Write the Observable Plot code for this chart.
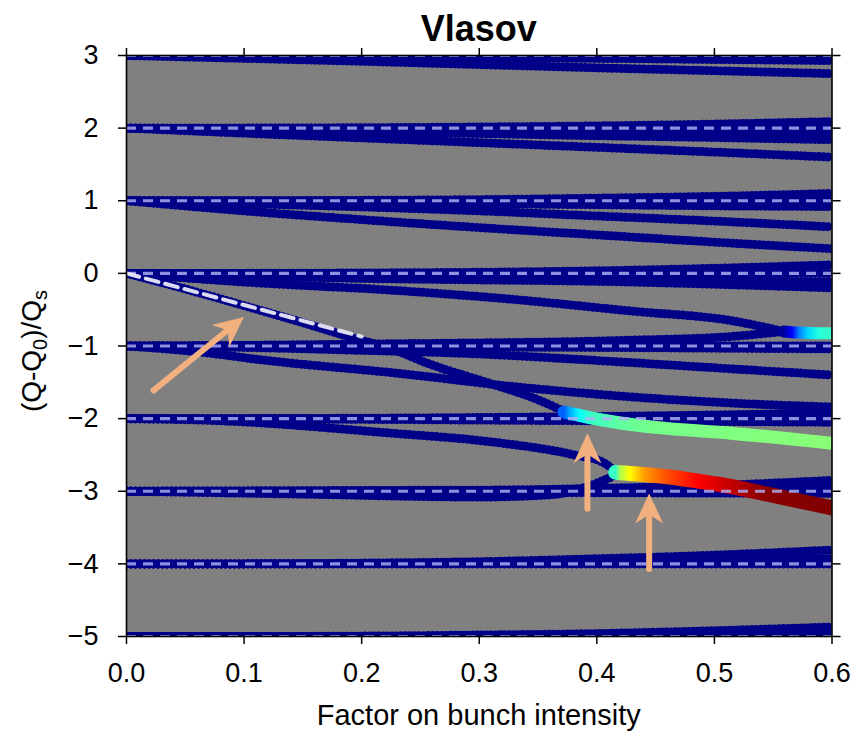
<!DOCTYPE html>
<html><head><meta charset="utf-8">
<script src="https://cdn.jsdelivr.net/npm/d3@7"></script>
<script src="https://cdn.jsdelivr.net/npm/@observablehq/plot@0.6"></script>
<style>body{margin:0;background:#fff;} #chart{width:854px;height:732px;}</style>
</head><body><div id="chart"></div>
<script>
// ---------- data ----------
const titleText = "Vlasov";
const xLabel = "Factor on bunch intensity";
const xTicks = [0, 0.1, 0.2, 0.3, 0.4, 0.5, 0.6];
const yTicks = [-5, -4, -3, -2, -1, 0, 1, 2, 3];
const modeLevels = [-5, -4, -3, -2, -1, 0, 1, 2, 3];

// sample positions shared by the "simple" mode lines
const gridX = [0, 0.1, 0.2, 0.3, 0.4, 0.5, 0.6];
// azimuthal mode 3
const m3a = [3, 3, 3, 3, 3, 3, 3];
const m3b = [3, 2.995, 2.985, 2.97, 2.96, 2.945, 2.93];
const m3c = [3, 2.96, 2.92, 2.875, 2.83, 2.79, 2.75];
// mode 2
const m2a = [2, 2, 2.005, 2.015, 2.03, 2.055, 2.09];
const m2b = [2, 2, 2, 2, 2, 2, 2];
const m2c = [2, 1.99, 1.98, 1.97, 1.96, 1.95, 1.94];
const m2d = [2, 1.975, 1.95, 1.925, 1.895, 1.87, 1.84];
const m2e = [2, 1.93, 1.865, 1.8, 1.735, 1.67, 1.6];
// mode 1
const m1a = [1, 1, 1.005, 1.015, 1.035, 1.06, 1.1];
const m1b = [1, 1, 1, 1, 1, 1, 1];
const m1c = [1, 0.985, 0.97, 0.96, 0.945, 0.93, 0.92];
const m1d = [1, 0.96, 0.915, 0.86, 0.79, 0.72, 0.64];
const m1e = [1, 0.86, 0.74, 0.63, 0.53, 0.43, 0.34];
// mode 0
const m0a = [0, 0, 0.005, 0.015, 0.035, 0.07, 0.117];
const m0b = [0, 0, 0, 0, 0, 0, 0];
const m0c = [0, -0.02, -0.04, -0.06, -0.08, -0.1, -0.12];
const m0d = [0, -0.035, -0.07, -0.09, -0.11, -0.15, -0.2];
// mode -1
const mm1a = [-1, -1, -1, -1, -1, -1, -1];
const mm1b = [-1, -1.005, -1.01, -1.015, -1.02, -1.03, -1.04];
const mm1c = [-1, -1.02, -1.06, -1.11, -1.2, -1.3, -1.4];
// mode -2
const mm2a = [-2, -2, -1.995, -1.985, -1.97, -1.95, -1.92];
const mm2b = [-2, -2, -2, -2, -2, -2, -2];
const mm2c = [-2, -2.005, -2.01, -2.02, -2.03, -2.04, -2.05];
// mode -3
const mm3a = [-3, -3, -2.995, -2.99, -2.96, -2.92, -2.85];
const mm3b = [-3, -3, -3, -3, -3, -3, -3];
const mm3c = [-3, -2.995, -2.99, -2.985, -2.98, -2.97, -2.96];
const mm3d = [-3, -3.005, -3.01, -3.015, -3.02, -3.025, -3.03];
// mode -4
const mm4a = [-4, -4, -3.99, -3.97, -3.93, -3.88, -3.81];
const mm4b = [-4, -4, -3.995, -3.985, -3.97, -3.95, -3.93];
const mm4c = [-4, -4, -4, -4, -4, -4, -4];
// mode -5
const mm5a = [-5, -5, -4.995, -4.98, -4.96, -4.92, -4.87];
const mm5b = [-5, -5, -5, -4.995, -4.985, -4.96, -4.93];
const mm5c = [-5, -5, -5, -5, -5, -5, -5];

// curved lines that end in a coupling
const steepX = [0, 0.05, 0.1, 0.15, 0.195, 0.215, 0.235, 0.253, 0.31, 0.35, 0.372];
const steepY = [0, -0.215, -0.445, -0.68, -0.9, -0.99, -1.1, -1.22, -1.52, -1.74, -1.9];
const dX = [0, 0.1, 0.233, 0.33, 0.43, 0.514, 0.559];
const dY = [0, -0.12, -0.24, -0.36, -0.52, -0.65, -0.8];
const gX = [0, 0.1, 0.225, 0.43, 0.514, 0.559];
const gY = [-1, -0.99, -0.97, -0.92, -0.87, -0.8];
const eX = [0, 0.066, 0.114, 0.233, 0.33, 0.437, 0.52, 0.6];
const eY = [-1, -1.09, -1.19, -1.38, -1.56, -1.71, -1.79, -1.84];
const fX = [0, 0.08, 0.225, 0.31, 0.381, 0.405, 0.416];
const fY = [-2, -2.03, -2.2, -2.32, -2.5, -2.6, -2.73];
const iX = [0, 0.15, 0.3, 0.36, 0.395, 0.418];
const iY = [-3, -3.04, -3.08, -3.05, -2.92, -2.76];

// coupled (unstable) modes, coloured by growth rate (0..1 on jet colormap)
const c1X = [0.559, 0.562, 0.566, 0.572, 0.58, 0.589, 0.6];
const c1Y = [-0.8, -0.805, -0.81, -0.815, -0.82, -0.823, -0.825];
const c1G = [0.03, 0.08, 0.12, 0.25, 0.34, 0.41, 0.43];
const c2X = [0.372, 0.378, 0.385, 0.395, 0.42, 0.45, 0.514, 0.6];
const c2Y = [-1.91, -1.93, -1.955, -1.99, -2.06, -2.12, -2.2, -2.34];
const c2G = [0.22, 0.3, 0.38, 0.43, 0.47, 0.49, 0.5, 0.51];
const c3X = [0.416, 0.42, 0.428, 0.44, 0.46, 0.486, 0.502, 0.522, 0.542, 0.6];
const c3Y = [-2.74, -2.745, -2.755, -2.77, -2.8, -2.86, -2.9, -2.96, -3.03, -3.23];
const c3G = [0.43, 0.55, 0.625, 0.72, 0.8, 0.875, 0.91, 0.95, 0.99, 1.0];

// dashed reference line (linear tune shift)
const diagX = [0, 0.2];
const diagY = [0, -0.87];

// annotation arrows
const arrowX1 = [0.023, 0.392, 0.4445];
const arrowY1 = [-1.61, -3.24, -4.07];
const arrowX2 = [0.0998, 0.392, 0.4445];
const arrowY2 = [-0.6, -2.2, -3.03];

// ---------- layout ----------
const W = 854, H = 732;
const ML = 126, MR = 22.5, MT = 55, MB = 96;
const NAVY = "#000088";
const PEACH = "#f2b07f";
const FONT = "'Liberation Sans', Arial, Helvetica, sans-serif";

const simpleLines = [m3a, m3b, m3c, m2a, m2b, m2c, m2d, m2e, m1a, m1b, m1c, m1d, m1e,
  m0a, m0b, m0c, m0d, mm1a, mm1b, mm1c, mm2a, mm2b, mm2c, mm3a, mm3b, mm3c, mm3d,
  mm4a, mm4b, mm4c, mm5a, mm5b, mm5c];
const curvedLines = [[steepX, steepY], [dX, dY], [gX, gY], [eX, eY], [fX, fY], [iX, iY]];

const rows = [];
simpleLines.forEach((ys, k) => ys.forEach((y, j) => rows.push({x: gridX[j], y, id: "s" + k})));
curvedLines.forEach(([xs, ys], k) => xs.forEach((x, j) => rows.push({x, y: ys[j], id: "c" + k})));

const coupled = [[c1X, c1Y, c1G, 12], [c2X, c2Y, c2G, 13], [c3X, c3Y, c3G, 15]];
const zip = (xs, ys) => xs.map((x, i) => ({x, y: ys[i]}));

function jet(v) {
  const c = t => Math.max(0, Math.min(1, t));
  return d3.rgb(255 * c(1.5 - Math.abs(4 * v - 3)), 255 * c(1.5 - Math.abs(4 * v - 2)), 255 * c(1.5 - Math.abs(4 * v - 1))).formatHex();
}

const arrows = arrowX1.map((x1, i) => ({x1, y1: arrowY1[i], x2: arrowX2[i], y2: arrowY2[i]}));
const kx = (W - ML - MR) / 0.6, ky = (H - MT - MB) / 8;
function headSymbol(a) {
  const L = 30, Wd = 14, N = 21;
  const ang = Math.atan2((a.x2 - a.x1) * kx, (a.y2 - a.y1) * ky);
  const c = Math.cos(ang), s = Math.sin(ang);
  const pts = [[0, 0], [Wd, L], [0, N], [-Wd, L]].map(([x, y]) => [x * c - y * s, x * s + y * c]);
  return {draw(ctx) { ctx.moveTo(...pts[0]); for (let i = 1; i < pts.length; i++) ctx.lineTo(...pts[i]); ctx.closePath(); }};
}

const fmtY = d => d < 0 ? "\u2212" + (-d) : String(d);

const marks = [
  Plot.frame({fill: "#808080"}),
  Plot.line(rows, {x: "x", y: "y", z: "id", stroke: NAVY, strokeWidth: 9, strokeDasharray: "0 4.5", strokeLinecap: "round", curve: "monotone-x", clip: true}),
  ...coupled.map(([xs, ys, gs, w], k) => Plot.line(zip(xs, ys), {x: "x", y: "y", stroke: `url(#grad${k})`, strokeWidth: w, strokeLinecap: "round", curve: "monotone-x", clip: true})),
  Plot.ruleY(modeLevels, {stroke: "#b0b0f4", strokeOpacity: 0.82, strokeWidth: 3.2, strokeDasharray: "10 7", clip: true}),
  Plot.line(zip(diagX, diagY), {x: "x", y: "y", stroke: "#eeeefa", strokeOpacity: 0.92, strokeWidth: 4, strokeDasharray: "13 7"}),
  Plot.arrow(arrows, {x1: "x1", y1: "y1", x2: "x2", y2: "y2", stroke: PEACH, strokeWidth: 6, headLength: 0, insetEnd: 14}),
  ...arrows.map(a => Plot.dot([a], {x: "x2", y: "y2", r: 15, symbol: headSymbol(a), fill: PEACH, stroke: "none"})),
  Plot.axisX({anchor: "bottom", ticks: xTicks, tickSize: 8, tickPadding: 18, tickFormat: d3.format(".1f"), fontSize: 27, label: null, strokeWidth: 1.5}),
  Plot.axisX({anchor: "top", ticks: xTicks, tickSize: 8, tickFormat: () => "", label: null, strokeWidth: 1.5}),
  Plot.axisY({anchor: "left", ticks: yTicks, tickSize: 8, tickPadding: 20, tickFormat: fmtY, fontSize: 27, label: null, strokeWidth: 1.5}),
  Plot.axisY({anchor: "right", ticks: yTicks, tickSize: 8, tickFormat: () => "", label: null, strokeWidth: 1.5}),
  Plot.frame({stroke: "black", strokeWidth: 1.6})
];

const chart = Plot.plot({
  width: W, height: H,
  marginLeft: ML, marginRight: MR, marginTop: MT, marginBottom: MB,
  x: {domain: [0, 0.6]},
  y: {domain: [-5, 3]},
  style: {fontFamily: FONT, fontSize: "27px", background: "white", color: "black"},
  marks
});

// gradients for coupled modes
const svg = d3.select(chart.tagName.toLowerCase() === "svg" ? chart : chart.querySelector("svg"));
const defs = svg.insert("defs", ":first-child");
coupled.forEach(([xs, ys, gs], k) => {
  const lg = defs.append("linearGradient").attr("id", `grad${k}`).attr("x1", 0).attr("y1", 0).attr("x2", 1).attr("y2", 0);
  const x0 = xs[0], x1 = xs[xs.length - 1];
  xs.forEach((x, i) => lg.append("stop").attr("offset", (x - x0) / (x1 - x0)).attr("stop-color", jet(gs[i])));
});

// title and axis labels
const cx = (ML + W - MR) / 2;
svg.append("text").attr("x", cx).attr("y", 41).attr("text-anchor", "middle")
  .attr("font-family", FONT).attr("font-size", 36).attr("font-weight", "bold").attr("fill", "black").text(titleText);
svg.append("text").attr("x", cx).attr("y", 725).attr("text-anchor", "middle")
  .attr("font-family", FONT).attr("font-size", 29).attr("fill", "black").text(xLabel);
const yl = svg.append("text").attr("transform", `translate(41,351) rotate(-90)`).attr("text-anchor", "middle")
  .attr("font-family", FONT).attr("font-size", 28).attr("fill", "black");
yl.append("tspan").text("(Q-Q");
yl.append("tspan").attr("font-size", 20).attr("dy", 6).text("0");
yl.append("tspan").attr("dy", -6).text(")/Q");
yl.append("tspan").attr("font-size", 20).attr("dy", 6).text("s");

document.getElementById("chart").append(chart);
</script>
</body></html>
